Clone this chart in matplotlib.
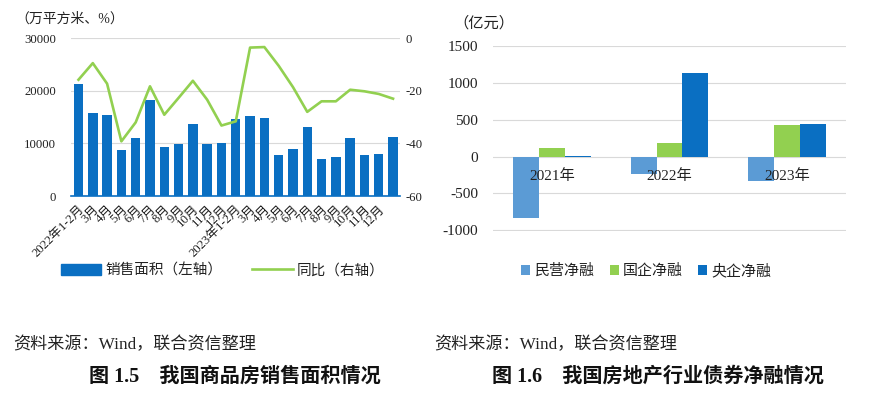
import matplotlib
matplotlib.use("Agg")
import matplotlib.pyplot as plt
import numpy as np
from matplotlib.patches import Patch
from matplotlib.lines import Line2D

plt.rcParams['font.family'] = ['Liberation Serif', 'Noto Sans CJK SC', 'DejaVu Sans']
plt.rcParams['axes.unicode_minus'] = False

# Left chart: sales area (10k m2) and YoY (%)
months = ["2022年1-2月", "3月", "4月", "5月", "6月", "7月", "8月", "9月", "10月", "11月", "12月",
          "2023年1-2月", "3月", "4月", "5月", "6月", "7月", "8月", "9月", "10月", "11月", "12月", ""]
sales_area = [21350, 15800, 15480, 8840, 11060, 18300, 9350, 9850, 13640, 9920, 10170,
              14720, 15230, 14900, 7770, 8900, 13140, 7140, 7460, 10990, 7900, 8030, 11310]
yoy = [-15.8, -9.5, -17.3, -39.2, -32.0, -18.3, -29.1, -22.7, -16.2, -23.4, -33.2,
       -31.6, -3.6, -3.4, -10.5, -18.6, -28.0, -24.0, -24.0, -19.6, -20.2, -21.2, -23.0]

# Right chart: net financing (100m yuan)
years = ["2021年", "2022年", "2023年"]
private_net = [-842, -234, -328]
local_soe_net = [122, 181, 428]
central_soe_net = [14, 1131, 437]

BLUE = "#0A6FC2"
GREEN = "#92D050"
LBLUE = "#5B9BD5"
GRID = "#D9D9D9"
TXT = "#222222"

fig = plt.figure(figsize=(8.7, 3.97), dpi=100)

# ---- left chart ----
ax1 = fig.add_axes([0.082, 0.506, 0.378, 0.398])
x = np.arange(len(months))
ax1.bar(x, sales_area, width=0.66, color=BLUE, zorder=3)
ax1.set_xlim(-0.5, len(months) - 0.5)
ax1.set_ylim(0, 30000)
ax1.set_yticks([0, 10000, 20000, 30000])
ax1.grid(axis="y", color=GRID, linewidth=0.8, zorder=0)
ax1.set_xticks(x)
ax1.set_xticklabels(months, rotation=45, ha="right", rotation_mode="anchor", fontsize=9.2, color=TXT)
for s in ["top", "right", "left"]:
    ax1.spines[s].set_visible(False)
ax1.spines["bottom"].set_color(BLUE)
ax1.spines["bottom"].set_linewidth(1.2)
ax1.tick_params(axis="both", length=0, labelsize=9.2, colors=TXT)
ax1.tick_params(axis="x", pad=5)
ax1.tick_params(axis="y", pad=11)

ax2 = ax1.twinx()
ax2.plot(x, yoy, color=GREEN, linewidth=1.9, zorder=4)
ax2.set_ylim(-60, 0)
ax2.set_yticks([-60, -40, -20, 0])
for s in ax2.spines.values():
    s.set_visible(False)
ax2.tick_params(axis="y", length=0, labelsize=9.2, colors=TXT, pad=4)

fig.text(0.018, 0.952, "（万平方米、%）", fontsize=10, color=TXT, va="center")

handles = [Patch(color=BLUE), Line2D([0], [0], color=GREEN, linewidth=1.9)]
fig.legend(handles, ["销售面积（左轴）", "同比（右轴）"], loc="center", bbox_to_anchor=(0.256, 0.318),
           ncol=2, frameon=False, fontsize=10.5, handlelength=2.8, handleheight=0.8,
           columnspacing=2.0, handletextpad=0.3, labelcolor=TXT)

# ---- right chart ----
ax3 = fig.add_axes([0.567, 0.419, 0.405, 0.466])
xg = np.arange(len(years))
w = 0.22
ax3.bar(xg - w, private_net, width=w, color=LBLUE, zorder=3, label="民营净融")
ax3.bar(xg, local_soe_net, width=w, color=GREEN, zorder=3, label="国企净融")
ax3.bar(xg + w, central_soe_net, width=w, color=BLUE, zorder=3, label="央企净融")
ax3.set_xlim(-0.5, len(years) - 0.5)
ax3.set_ylim(-1008, 1508)
ax3.set_yticks([-1000, -500, 0, 500, 1000, 1500])
ax3.grid(axis="y", color=GRID, linewidth=0.8, zorder=0)
ax3.set_xticks([])
for s in ax3.spines.values():
    s.set_visible(False)
ax3.tick_params(axis="y", length=0, labelsize=11, colors=TXT, pad=11)
for i, yr in enumerate(years):
    ax3.text(xg[i], -265, yr, ha="center", va="center", fontsize=11, color=TXT, zorder=5)

fig.text(0.521, 0.942, "（亿元）", fontsize=11, color=TXT, va="center")
ax3.legend(loc="center", bbox_to_anchor=(0.743, 0.318), bbox_transform=fig.transFigure,
           ncol=3, frameon=False, fontsize=10.8, handlelength=0.6, handleheight=0.6,
           columnspacing=1.0, handletextpad=0.3, labelcolor=TXT)

# ---- footers ----
fig.text(0.015, 0.13, "资料来源：Wind，联合资信整理", fontsize=12.3, color=TXT, va="center")
fig.text(0.499, 0.13, "资料来源：Wind，联合资信整理", fontsize=12.3, color=TXT, va="center")
fig.text(0.102, 0.05, "图 1.5　我国商品房销售面积情况", fontsize=14.5, fontweight="bold", color="#111111", va="center")
fig.text(0.565, 0.05, "图 1.6　我国房地产行业债券净融情况", fontsize=14.5, fontweight="bold", color="#111111", va="center")

fig.savefig("out.png", dpi=100, facecolor="white")
